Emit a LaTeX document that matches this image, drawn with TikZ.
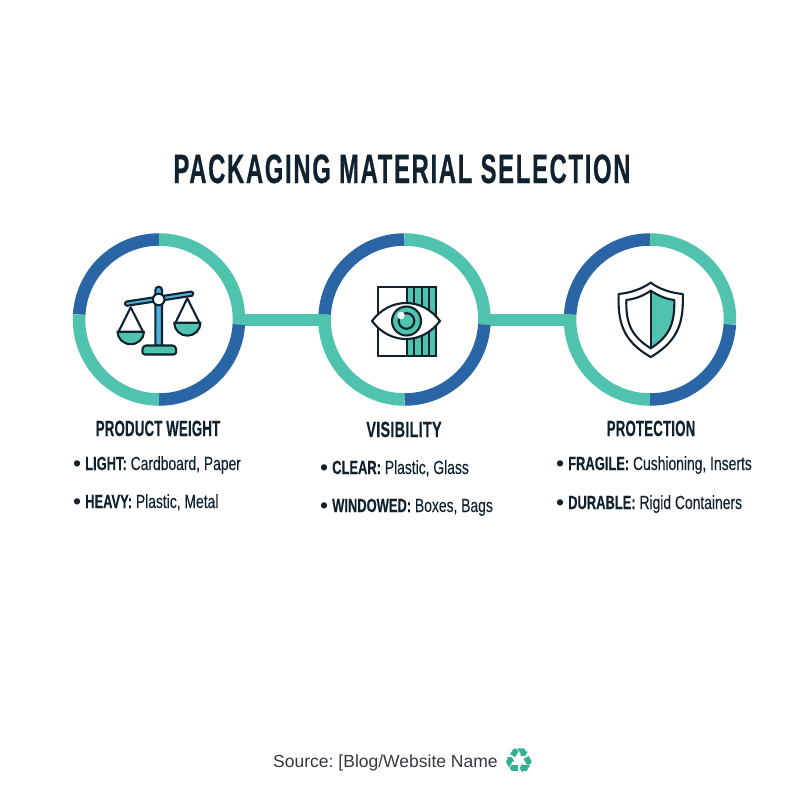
\documentclass[tikz,border=0pt]{standalone}
\usepackage{fontspec}
\setmainfont{Liberation Sans}
\newfontfamily\titlefont[FakeStretch=0.58,LetterSpace=4.2,FakeBold=0.5]{Liberation Sans Bold}
\newfontfamily\headfont[FakeStretch=0.6,LetterSpace=1,FakeBold=0.3]{Liberation Sans Bold}
\newfontfamily\visfont[FakeStretch=0.66,LetterSpace=1,FakeBold=0.3]{Liberation Sans Bold}
\newfontfamily\itemfont[FakeStretch=0.73,FakeBold=0.15]{Liberation Sans}
\newfontfamily\itembold[FakeStretch=0.68,FakeBold=0.2]{Liberation Sans Bold}
\newfontfamily\symfont{DejaVu Sans}
\definecolor{teal}{HTML}{4FC3AD}
\definecolor{deepblue}{HTML}{2A65A5}
\definecolor{ink}{HTML}{10222F}
\definecolor{skyb}{HTML}{4AB1E2}
\definecolor{srcgrey}{HTML}{333A40}
\definecolor{recyc}{HTML}{33B091}
\tikzset{
  ringnode/.style={circle,minimum size=160pt,inner sep=0pt},
  arcblue/.style={line width=12.5pt,deepblue},
  arcteal/.style={line width=12.5pt,teal},
  link/.style={line width=12pt,teal},
  icon/.style={draw=ink,line width=2.1pt,line join=round,line cap=round},
  titletext/.style={font=\titlefont\fontsize{41}{41}\selectfont,text=ink,inner sep=0pt,anchor=base},
  headtext/.style={font=\headfont\fontsize{22}{22}\selectfont,text=ink,inner sep=0pt,anchor=base},
  itemtext/.style={font=\itemfont\fontsize{19}{19}\selectfont,text=ink,inner sep=0pt,anchor=base west},
  srctext/.style={font=\fontsize{17.5}{17.5}\selectfont,text=srcgrey,inner sep=0pt,anchor=base west},
}
\newcommand{\ringparts}[1]{%
  \draw[arcblue] (#1) ++(183.6:80) arc[start angle=183.6,end angle=270,radius=80];
  \draw[arcteal] (#1) ++(270:80) arc[start angle=270,end angle=363.6,radius=80];
  \draw[arcblue] (#1) ++(3.6:80) arc[start angle=3.6,end angle=90,radius=80];
  \draw[arcteal] (#1) ++(90:80) arc[start angle=90,end angle=183.6,radius=80];
}
\newcommand{\bul}{\makebox[12pt][l]{\raisebox{-1.6pt}{\normalfont\fontsize{23}{23}\selectfont\textbullet}}}
\newcommand{\bld}[1]{{\itembold #1}}
\begin{document}
\begin{tikzpicture}[x=1pt,y=-1pt]
\useasboundingbox[fill=white] (0,0) rectangle (800,800);
\node[titletext] (title) at (402,183) {PACKAGING MATERIAL SELECTION};
\node[ringnode] (c1) at (159,319.5) {};
\node[ringnode] (c2) at (404.5,319.5) {};
\node[ringnode] (c3) at (650,319.5) {};
\draw[link] (c1.east) -- (c2.west);
\draw[link] (c2.east) -- (c3.west);
\ringparts{c1}\ringparts{c2}\ringparts{c3}
% scales
\draw[icon,fill=skyb] (155.4,346) -- (155.4,290) arc[start angle=180,end angle=360,radius=3.3] -- (162,346) -- cycle;
\draw[icon,fill=skyb,rounded corners=1.5pt] (124.8,301.8) -- (192.8,291.3) -- (193.4,295.6) -- (125.5,306) -- cycle;
\draw[icon,fill=white] (158.7,299.5) circle[radius=5.8];
\draw[icon,fill=teal,rounded corners=3pt] (142,354.5) -- (143,345.5) -- (175.5,345.5) -- (176.5,354.5) -- cycle;
\draw[icon] (118.5,331.7) -- (130.7,307.3) -- (143,331.7);
\draw[icon,fill=teal] (117.5,331.7) -- (144,331.7) arc[start angle=0,end angle=180,x radius=13.25,y radius=12.5] -- cycle;
\draw[icon] (175.5,322.7) -- (187.3,298.3) -- (199.5,322.7);
\draw[icon,fill=teal] (174.2,322.7) -- (200.5,322.7) arc[start angle=0,end angle=180,x radius=13.15,y radius=13] -- cycle;
% eye
\draw[icon,fill=white] (378,286.7) rectangle (435.7,356);
\fill[teal] (406.7,286.7) rectangle (435.7,356);
\foreach \lx in {406.7,414.3,421.7,429,435.7}
  \draw[icon] (\lx,286.7) -- (\lx,356);
\draw[icon] (378,286.7) rectangle (435.7,356);
\draw[icon,fill=white] (372,321) .. controls (390,297) and (422,297) .. (440,321) .. controls (422,345) and (390,345) .. (372,321) -- cycle;
\draw[icon,fill=teal] (406.5,321) circle[radius=14.5];
\draw[icon,fill=teal] (406.5,321) circle[radius=7.8];
\fill[white] (401,315.5) circle[radius=3.8];
% shield
\draw[icon,fill=white] (650.7,282.6) .. controls (642,289) and (630,293) .. (618.6,294) .. controls (618,320) and (621,340) .. (650.7,357) .. controls (680,340) and (683.5,320) .. (682.8,294) .. controls (671,293) and (659,289) .. (650.7,282.6) -- cycle;
\fill[teal] (650.7,290.7) .. controls (659,296) and (666,299) .. (674.3,300) .. controls (674.5,320) and (672,335) .. (650.7,348.3) -- cycle;
\draw[icon] (650.7,290.7) .. controls (643,296) and (635,299) .. (626.3,300) .. controls (626,320) and (629,335) .. (650.7,348.3) .. controls (672,335) and (674.5,320) .. (674.3,300) .. controls (666,299) and (659,296) .. (650.7,290.7) -- cycle;
\draw[icon] (650.7,290.7) -- (650.7,348.3);
% text
\node[headtext] (h1) at (158,436) {PRODUCT WEIGHT};
\node[headtext,font=\visfont\fontsize{22}{22}\selectfont] (h2) at (404,437) {VISIBILITY};
\node[headtext] (h3) at (651,436) {PROTECTION};
\node[itemtext] (i1) at (73,470) {\bul\bld{LIGHT:} Cardboard, Paper};
\node[itemtext] (i2) at (73,508) {\bul\bld{HEAVY:} Plastic, Metal};
\node[itemtext] (i3) at (320,474) {\bul\bld{CLEAR:} Plastic, Glass};
\node[itemtext] (i4) at (320,512) {\bul\bld{WINDOWED:} Boxes, Bags};
\node[itemtext] (i5) at (556,470) {\bul\bld{FRAGILE:} Cushioning, Inserts};
\node[itemtext] (i6) at (556,509) {\bul\bld{DURABLE:} Rigid Containers};
\node[srctext] (src) at (273,767) {Source:\hspace{-1.5pt} [Blog/Website Name};
\node[font=\symfont\fontsize{35}{35}\selectfont,text=recyc,inner sep=0pt] (rec) at (519.5,761.5) {♻};
\end{tikzpicture}
\end{document}
